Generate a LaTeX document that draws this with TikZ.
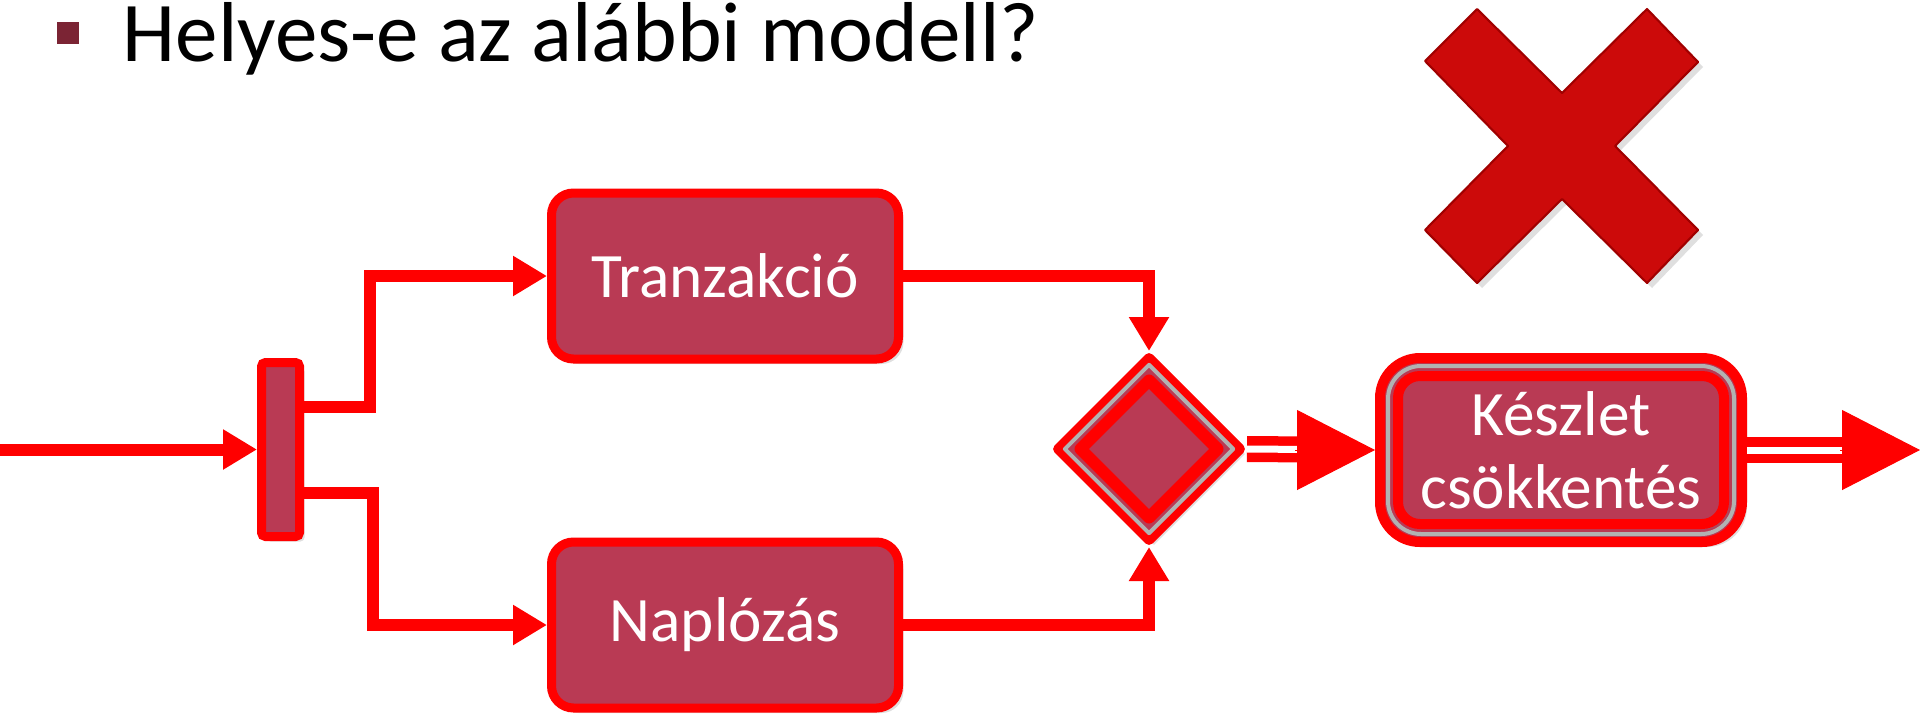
\documentclass[tikz,border=0pt]{standalone}
\usepackage{fontspec}
\setmainfont{Carlito}
\usetikzlibrary{arrows.meta,shapes.geometric,shadows}
\definecolor{flowred}{RGB}{255,0,0}
\definecolor{boxfill}{RGB}{185,58,84}
\definecolor{bulletcol}{RGB}{123,36,52}
\definecolor{crosscol}{RGB}{204,10,10}
\definecolor{crossedge}{RGB}{160,0,0}
\definecolor{rimgray}{RGB}{178,178,178}

\begin{document}
\begin{tikzpicture}[
  softshadow/.style={drop shadow={opacity=0.25,shadow xshift=0.05cm,shadow yshift=-0.05cm}},
  action/.style={draw=flowred,line width=0.09cm,fill=boxfill,rounded corners=0.22cm,
    minimum width=3.47cm,minimum height=1.66cm,text=white,
    font=\fontsize{18}{21}\selectfont,softshadow},
  forkbar/.style={draw=flowred,line width=0.09cm,fill=boxfill,rounded corners=0.04cm,
    minimum width=0.38cm,minimum height=1.74cm,inner sep=0pt,softshadow},
  gate/.style={diamond,aspect=1,inner sep=0pt,line join=round},
  rim/.style={draw=rimgray,line width=0.04cm},
  flow/.style={draw=flowred,line width=0.12cm,-{Triangle[length=0.34cm,width=0.38cm]}},
  dblflow/.style={draw=flowred,line width=0.095cm,double=white,double distance=0.07cm,shorten >=0.5cm},
  bighead/.style={draw=flowred,line width=0.01cm,-{Triangle[length=0.78cm,width=0.8cm]}}
]
\useasboundingbox (0,0) rectangle (19.2,7.15);

\node[fill=bulletcol,minimum size=0.22cm,inner sep=0pt] (bullet) at (0.68,6.82) {};
\node[anchor=base west,inner sep=0pt,font=\fontsize{24.2}{29}\selectfont] (title) at (1.22,6.54) {Helyes-e az alábbi modell?};

\fill[crosscol,draw=crossedge,line width=0.6pt,line join=round,softshadow]
  (14.25,6.54) -- (14.77,7.06) -- (15.62,6.22) -- (16.47,7.06) -- (16.98,6.53) -- (16.15,5.69)
  -- (16.98,4.85) -- (16.47,4.32) -- (15.62,5.16) -- (14.77,4.32) -- (14.25,4.85) -- (15.08,5.69) -- cycle;

\coordinate (start) at (0,2.655);
\node[forkbar] (fork) at (2.805,2.655) {};
\node[action] (tran) at (7.25,4.39) {Tranzakció};
\node[action] (napl) at (7.25,0.90) {Naplózás};

\node[gate,draw=flowred,line width=0.1cm,fill=boxfill,minimum width=1.86cm,minimum height=1.86cm,softshadow] (dec) at (11.49,2.66) {};
\node[gate,rim,minimum width=1.70cm,minimum height=1.70cm] (decrim) at (dec) {};
\node[gate,draw=flowred,line width=0.12cm,fill=boxfill,minimum width=1.42cm,minimum height=1.42cm] (deccore) at (dec) {};

\node[draw=flowred,line width=0.1cm,fill=boxfill,rounded corners=0.4cm,minimum width=3.62cm,minimum height=1.84cm,softshadow] (stock) at (15.61,2.65) {};
\node[rim,rounded corners=0.33cm,minimum width=3.46cm,minimum height=1.68cm] (stockrim) at (stock) {};
\node[action,line width=0.1cm,rounded corners=0.22cm,minimum width=3.26cm,minimum height=1.48cm,align=center,
  font=\fontsize{18}{20.8}\selectfont,drop shadow={opacity=0}] (stockcore) at (stock) {Készlet\\csökkentés};
\coordinate (finish) at (19.2,2.65);

\draw[flow] (start) -- (fork.west);
\draw[flow] ([yshift=4.3mm]fork.east) -- ++(0.66,0) |- (tran.west);
\draw[flow] ([yshift=-4.3mm]fork.east) -- ++(0.69,0) |- (napl.west);
\draw[flow] (tran.east) -| (dec.north);
\draw[flow] (napl.east) -| (dec.south);

\draw[dblflow] (dec.east) -- (stock.west);
\draw[bighead] ([xshift=-8mm]stock.west) -- (stock.west);
\draw[dblflow] (stock.east) -- (finish);
\draw[bighead] ([xshift=-8mm]finish) -- (finish);
\end{tikzpicture}
\end{document}
